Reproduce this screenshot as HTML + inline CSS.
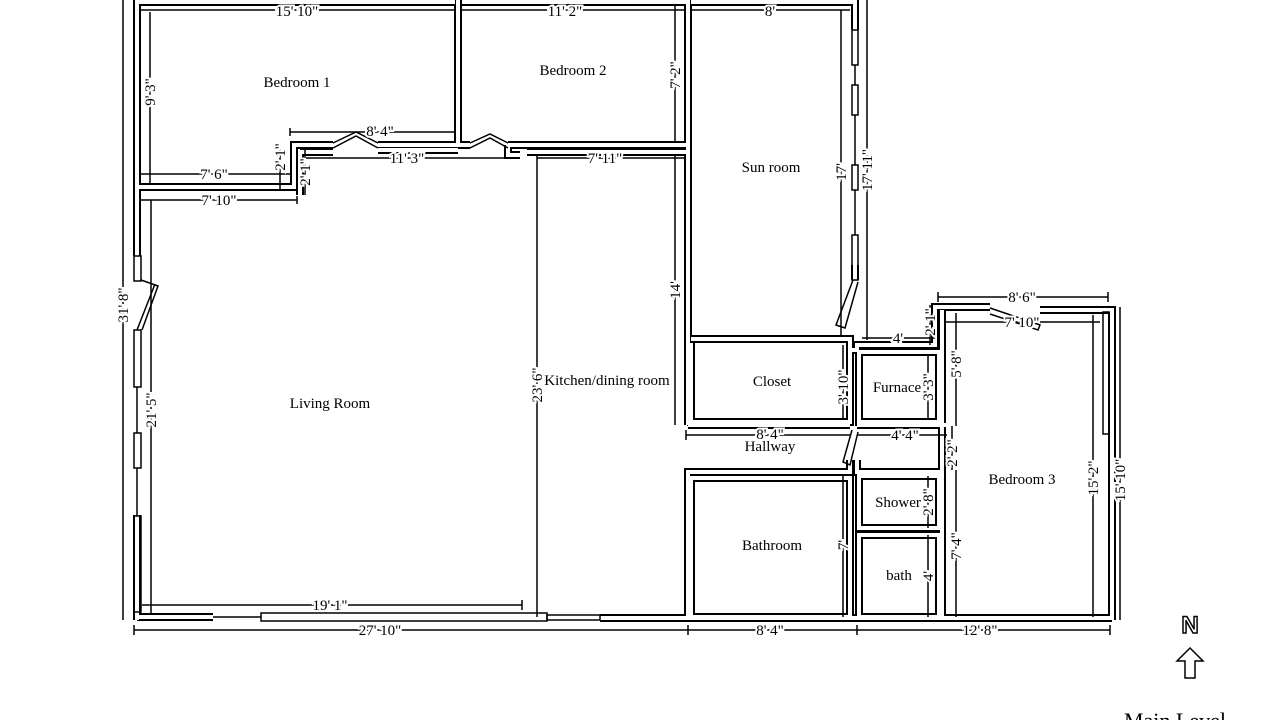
<!DOCTYPE html>
<html><head><meta charset="utf-8"><style>
html,body{margin:0;padding:0;background:#fff;}
svg{display:block;}
text{font-family:"Liberation Serif",serif;font-size:15px;fill:#000;}
.d{paint-order:stroke;stroke:#fff;stroke-width:4px;}
</style></head><body>
<svg width="1280" height="720" viewBox="0 0 1280 720" xmlns="http://www.w3.org/2000/svg">
<defs>
<g id="w" fill="none" stroke-linejoin="miter">
<path d="M137,-5 V256"/>
<path d="M137,2 H455 M462,2 H688 M691,2 H855"/>
<path d="M137,187 H294 V145 H333"/>
<path d="M378,145 H458 V-5"/>
<path d="M458,145 H470"/>
<path d="M300,152 V195 M300,152 H333"/>
<path d="M378,150 H458"/>
<path d="M508,145 H688"/>
<path d="M508,145 V155 H520"/>
<path d="M527,152 H688"/>
<path d="M688,-5 V425"/>
<path d="M855,-5 V30"/>
<path d="M855,265 V280"/>
<path d="M691,339 H850 V350 H857 V345 H935 V307 H990"/>
<path d="M1040,310 H1112 V620"/>
<path d="M691,343 V422 H850 V343"/>
<path d="M857,352 H939 V422 H859 V352"/>
<path d="M688,425 H850 M857,425 H946"/>
<path d="M942,310 V620"/>
<path d="M688,620 V472 H850 V460 M857,460 V472 H942"/>
<path d="M691,478 V617 H850 V478 Z"/>
<path d="M859,476 H939 V528 H859 Z"/>
<path d="M859,535 H939 V617 H859 Z"/>
<path d="M137,617 H213"/>
<path d="M600,618 H1112"/>
<path d="M137,515 V620"/>
</g>
</defs>
<use href="#w" stroke="#000" stroke-width="8"/>
<use href="#w" stroke="#fff" stroke-width="4"/>

<g fill="none" stroke="#000" stroke-width="1.5">
<rect x="134" y="256" width="7" height="25"/>
<rect x="134" y="330" width="7" height="57"/>
<rect x="134" y="433" width="7" height="35"/>
<rect x="134" y="516" width="7" height="96"/>
<path d="M137,387 V433 M137,468 V516"/>
<path d="M141,280 L158,286 L142,330 M137,330 L155,284"/>
<path d="M213,617 H261"/>
<rect x="261" y="613" width="286" height="8"/>
<rect x="547" y="615" width="53" height="5"/>
<path d="M333,143 L356,132 L378,143 M333,148 L356,136 L378,148"/>
<path d="M470,143 L490,134 L508,143 M470,148 L490,138 L508,148"/>
<rect x="852" y="30" width="6" height="35"/>
<rect x="852" y="85" width="6" height="30"/>
<rect x="852" y="165" width="6" height="25"/>
<rect x="852" y="235" width="6" height="45"/>
<path d="M855,65 V85 M855,115 V165 M855,190 V235"/>
<path d="M853,280 L836,325 L845,328 L858,282"/>
<path d="M852,430 L843,462 L850,465 L858,432"/>
<path d="M990,308 L1040,325 L1038,330 L990,314"/>
<rect x="1103" y="312" width="6" height="122"/>
<path d="M537,155 V617"/>
</g>

<g stroke="#000" stroke-width="1.5" fill="none">
<path d="M140,10 H455 M462,10 H685 M691,10 H850"/>
<path d="M150,12 V185 M675,5 V142"/>
<path d="M290,128 V136 M290,132 H455"/>
<path d="M300,158 H520 M537,158 H685"/>
<path d="M140,174 H290 M140,200 H297 M297,196 V204"/>
<path d="M123,0 V620 M151,200 V615"/>
<path d="M675,155 V425 M841,10 V335 M867,0 V340"/>
<path d="M142,605 H522 M522,600 V610"/>
<path d="M134,630 H1110 M134,625 V635 M688,625 V635 M857,625 V635 M1110,625 V635"/>
<path d="M938,297 H1108 M938,292 V302 M1108,292 V302"/>
<path d="M945,322 H1100"/>
<path d="M862,338 H935 M930,305 V345"/>
<path d="M843,345 V420 M928,355 V420 M956,313 V426"/>
<path d="M686,435 H850 M858,435 H947 M686,430 V440"/>
<path d="M952,426 V470 M928,476 V528 M843,475 V617 M956,470 V617 M928,535 V617"/>
<path d="M1093,315 V617 M1120,307 V620"/>
<path d="M280,143 V190 M305,150 V195"/>
</g>

<g class="d" text-anchor="middle">
<text x="297" y="16">15' 10"</text>
<text x="565" y="16">11' 2"</text>
<text x="770" y="16">8'</text>
<text x="380" y="136">8' 4"</text>
<text x="407" y="163">11' 3"</text>
<text x="605" y="163">7' 11"</text>
<text x="214" y="179">7' 6"</text>
<text x="219" y="205">7' 10"</text>
<text x="330" y="610">19' 1"</text>
<text x="380" y="635">27' 10"</text>
<text x="770" y="635">8' 4"</text>
<text x="980" y="635">12' 8"</text>
<text x="1022" y="302">8' 6"</text>
<text x="1022" y="327">7' 10"</text>
<text x="898" y="343">4'</text>
<text x="770" y="439">8' 4"</text>
<text x="905" y="440">4' 4"</text>
</g>
<g class="d" text-anchor="middle">
<text transform="translate(155,92) rotate(-90)">9' 3"</text>
<text transform="translate(680,75) rotate(-90)">7' 2"</text>
<text transform="translate(285,157) rotate(-90)">2' 1"</text>
<text transform="translate(310,172) rotate(-90)">2' 1"</text>
<text transform="translate(128,305) rotate(-90)">31' 8"</text>
<text transform="translate(156,410) rotate(-90)">21' 5"</text>
<text transform="translate(542,385) rotate(-90)">23' 6"</text>
<text transform="translate(680,290) rotate(-90)">14'</text>
<text transform="translate(846,172) rotate(-90)">17'</text>
<text transform="translate(872,170) rotate(-90)">17' 11"</text>
<text transform="translate(935,322) rotate(-90)">2' 1"</text>
<text transform="translate(848,387) rotate(-90)">3' 10"</text>
<text transform="translate(933,387) rotate(-90)">3' 3"</text>
<text transform="translate(961,364) rotate(-90)">5' 8"</text>
<text transform="translate(957,453) rotate(-90)">2' 2"</text>
<text transform="translate(933,502) rotate(-90)">2' 8"</text>
<text transform="translate(848,545) rotate(-90)">7'</text>
<text transform="translate(961,546) rotate(-90)">7' 4"</text>
<text transform="translate(933,576) rotate(-90)">4'</text>
<text transform="translate(1098,478) rotate(-90)">15' 2"</text>
<text transform="translate(1125,480) rotate(-90)">15' 10"</text>
</g>
<g text-anchor="middle">
<text x="297" y="87">Bedroom 1</text>
<text x="573" y="75">Bedroom 2</text>
<text x="771" y="172">Sun room</text>
<text x="330" y="408">Living Room</text>
<text x="607" y="385" class="d">Kitchen/dining room</text>
<text x="772" y="386">Closet</text>
<text x="897" y="392" class="d">Furnace</text>
<text x="770" y="451">Hallway</text>
<text x="1022" y="484">Bedroom 3</text>
<text x="898" y="507" class="d">Shower</text>
<text x="772" y="550">Bathroom</text>
<text x="899" y="580">bath</text>
</g>
<text x="1190" y="633" text-anchor="middle" style="font-family:'Liberation Sans',sans-serif;font-size:24px;font-weight:bold;fill:#fff;stroke:#000;stroke-width:1.5px;">N</text>
<path d="M1190,648 L1203,661 H1195 V678 H1185 V661 H1177 Z" fill="#fff" stroke="#000" stroke-width="1.5"/>
<text x="1175" y="728" text-anchor="middle" style="font-size:22px;">Main Level</text>
</svg>
</body></html>
